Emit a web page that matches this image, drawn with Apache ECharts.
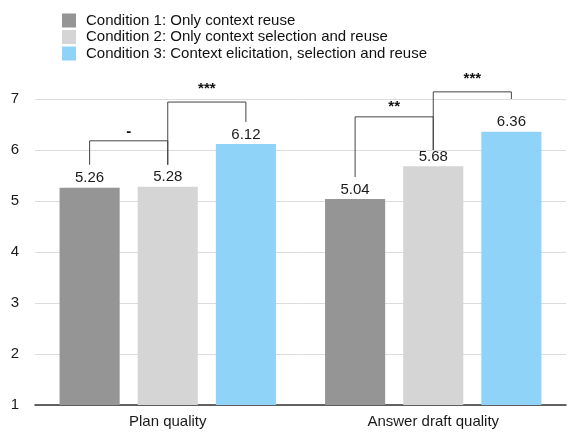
<!DOCTYPE html>
<html>
<head>
<meta charset="utf-8">
<script src="https://cdn.jsdelivr.net/npm/echarts@6/dist/echarts.min.js"></script>
<style>html,body{margin:0;padding:0;background:#fff;}#c{width:579px;height:436px;}</style>
</head>
<body>
<div id="c"></div>
<script>
const categories = ['Plan quality', 'Answer draft quality'];
const seriesNames = [
  'Condition 1: Only context reuse',
  'Condition 2: Only context selection and reuse',
  'Condition 3: Context elicitation, selection and reuse'
];
const cond1 = [5.26, 5.04];
const cond2 = [5.28, 5.68];
const cond3 = [6.12, 6.36];
const yTicks = [1, 2, 3, 4, 5, 6, 7];
// brackets: [category, fromBar, toBar, levelValue, leftBottomValue, rightBottomValue, textValue]
const brackets = [
  [0, 0, 1, 6.18, 5.71, 5.71, 6.35],
  [0, 1, 2, 6.94, 5.71, 6.55, 7.20],
  [1, 0, 1, 6.65, 5.47, 6.00, 6.84],
  [1, 1, 2, 7.14, 6.00, 7.00, 7.40]
];
const bracketText = ['-', '***', '**', '***'];

const colors = ['#959595', '#d5d5d5', '#8fd3f8'];
const FONT = '"Liberation Sans", Arial, Helvetica, sans-serif';
const CAT_GAP = 0.185, BAR_GAP = 0.3, NBARS = 3;

const chart = echarts.init(document.getElementById('c'));
function barSeries(name, data, color) {
  return {
    name: name, type: 'bar', data: data,
    barCategoryGap: (CAT_GAP * 100) + '%', barGap: (BAR_GAP * 100) + '%',
    itemStyle: { color: color },
    label: { show: true, position: 'top', distance: 2, color: '#1a1a1a', fontSize: 15, fontFamily: FONT,
      formatter: p => p.value.toFixed(2) },
    emphasis: { disabled: true }
  };
}
chart.setOption({
  animation: false,
  textStyle: { fontFamily: FONT },
  legend: {
    orient: 'vertical', left: 57, top: 8, itemWidth: 14, itemHeight: 14, itemGap: 1.5,
    icon: 'rect', data: seriesNames,
    textStyle: { fontSize: 15, color: '#111', fontFamily: FONT, padding: [0, 0, 0, 5] }
  },
  grid: { left: 35, right: 13, top: 99, bottom: 31 },
  xAxis: {
    type: 'category', data: categories,
    axisLine: { lineStyle: { color: '#333', width: 1.5 } },
    axisTick: { show: false },
    axisLabel: { fontSize: 15, color: '#1a1a1a', margin: 9, fontFamily: FONT }
  },
  yAxis: {
    type: 'value', min: 1, max: 7, interval: 1,
    axisLine: { show: false }, axisTick: { show: false },
    splitLine: { lineStyle: { color: '#dcdcdc', width: 1 } },
    axisLabel: { fontSize: 15, color: '#1a1a1a', margin: 16, fontFamily: FONT,
      formatter: v => yTicks.includes(v) ? String(v) : '' }
  },
  series: [
    barSeries(seriesNames[0], cond1, colors[0]),
    barSeries(seriesNames[1], cond2, colors[1]),
    barSeries(seriesNames[2], cond3, colors[2]),
    {
      type: 'custom', name: 'brackets', data: brackets, silent: true, z: 10,
      renderItem: function (params, api) {
        const cat = api.value(0), a = api.value(1), b = api.value(2);
        const center = api.coord([cat, 1])[0];
        const W = api.size([1, 0])[0];
        const bw = W * (1 - CAT_GAP) / (NBARS + (NBARS - 1) * BAR_GAP);
        const total = W * (1 - CAT_GAP);
        const bx = k => center - total / 2 + k * bw * (1 + BAR_GAP) + bw / 2;
        const yv = v => api.coord([cat, v])[1];
        const xa = bx(a), xb = bx(b);
        const yl = yv(api.value(3)), y1 = yv(api.value(4)), y2 = yv(api.value(5)), yt = yv(api.value(6));
        const ls = { stroke: '#444', lineWidth: 1, fill: null };
        return {
          type: 'group',
          children: [
            { type: 'polyline', shape: { points: [[xa, y1], [xa, yl], [xb, yl], [xb, y2]] }, style: ls },
            { type: 'text', x: (xa + xb) / 2, y: yt,
              style: { text: bracketText[params.dataIndex], fill: '#111', font: 'bold 15px ' + FONT,
                align: 'center', verticalAlign: 'middle' } }
          ]
        };
      }
    }
  ]
});
</script>
</body>
</html>
